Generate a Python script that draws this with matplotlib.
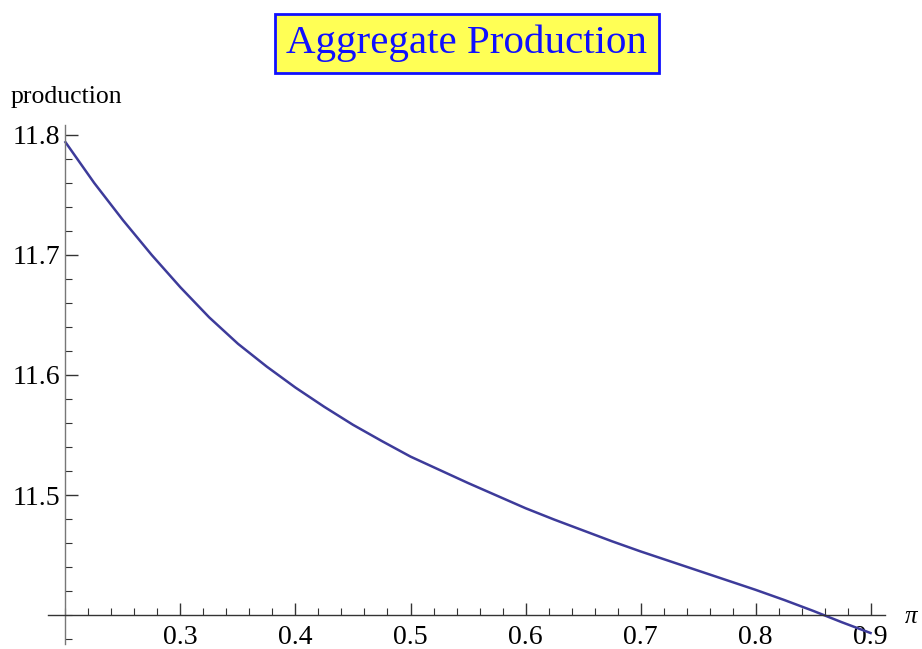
import matplotlib
matplotlib.use("Agg")
import matplotlib.pyplot as plt
import numpy as np

# values
pi_vals = [0.200, 0.225, 0.250, 0.275, 0.300, 0.325, 0.350, 0.375, 0.400, 0.425,
           0.450, 0.475, 0.500, 0.525, 0.550, 0.575, 0.600, 0.625, 0.650, 0.675,
           0.700, 0.725, 0.750, 0.775, 0.800, 0.825, 0.850, 0.875, 0.900]
production = [11.794, 11.760, 11.729, 11.700, 11.673, 11.648, 11.626, 11.607, 11.5895, 11.5735,
              11.5585, 11.545, 11.532, 11.521, 11.510, 11.4995, 11.489, 11.4795, 11.4705, 11.4615,
              11.453, 11.445, 11.437, 11.429, 11.421, 11.4125, 11.4035, 11.394, 11.385]

x_major = [0.3, 0.4, 0.5, 0.6, 0.7, 0.8, 0.9]
y_major = [11.5, 11.6, 11.7, 11.8]

plt.rcParams["font.family"] = ["Liberation Serif", "DejaVu Serif"]

fig = plt.figure(figsize=(9.22, 6.49), dpi=100)
ax = fig.add_axes([0.0523, 0.008, 0.9081, 0.7988])

ax.plot(pi_vals, production, color="#3d3b9a", lw=1.8, solid_joinstyle="round")

ax.set_xlim(0.185, 0.913)
ax.set_ylim(11.376, 11.808)

for s in ("top", "right"):
    ax.spines[s].set_visible(False)
ax.spines["left"].set_position(("data", 0.2))
ax.spines["bottom"].set_position(("data", 11.4))
ax.spines["left"].set_color("#777777")
ax.spines["bottom"].set_color("#333333")
ax.spines["left"].set_linewidth(1.0)
ax.spines["bottom"].set_linewidth(1.0)

ax.set_xticks(x_major)
ax.set_xticklabels([f"{v:.1f}" for v in x_major])
ax.set_xticks(np.arange(0.20, 0.905, 0.02), minor=True)
ax.set_yticks(y_major)
ax.set_yticklabels([f"{v:.1f}" for v in y_major])
ax.set_yticks(np.arange(11.38, 11.805, 0.02), minor=True)

ax.tick_params(which="both", direction="in", colors="#333333", labelcolor="black",
               labelsize=20)
ax.tick_params(which="major", length=9, width=1.0)
ax.tick_params(which="minor", length=5, width=0.8)
ax.tick_params(axis="x", which="major", pad=7)
ax.tick_params(axis="y", which="major", pad=4)

fig.text(0.012, 0.8505, "production", fontsize=18.5, ha="left", va="center")
fig.text(0.988, 0.049, "π", fontsize=18, style="italic", ha="center", va="center")

fig.text(0.5065, 0.933, "Aggregate Production", fontsize=29.5, color="#1010ff",
         ha="center", va="center",
         bbox=dict(boxstyle="square,pad=0.27", facecolor="#ffff55",
                   edgecolor="#1010ff", linewidth=2))

fig.savefig("out.png", dpi=100)
